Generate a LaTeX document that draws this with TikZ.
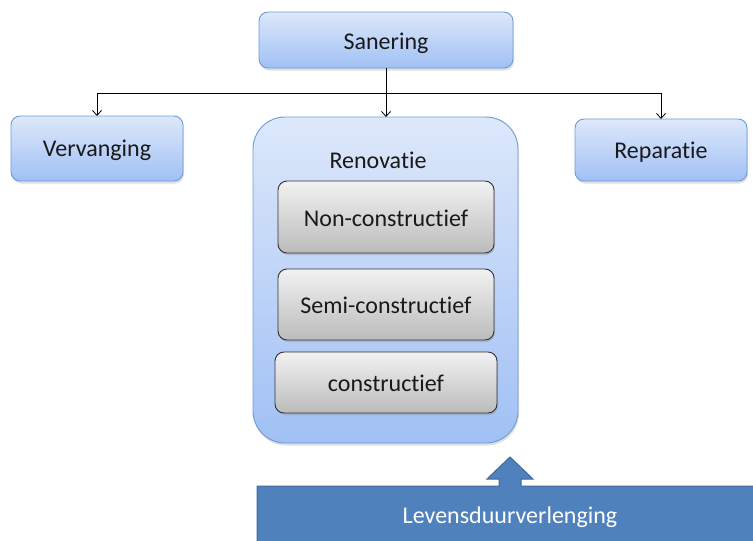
\documentclass[tikz,border=0pt]{standalone}
\usepackage{fontspec}
\setmainfont{Carlito}[Ligatures={NoCommon,NoRequired,NoContextual}]
\usetikzlibrary{shadows,arrows.meta}
\definecolor{bluetop}{HTML}{DDE8FA}
\definecolor{bluebot}{HTML}{A0C0F5}
\definecolor{blueline}{HTML}{6E9BD6}
\definecolor{graytop}{HTML}{F2F2F2}
\definecolor{graybot}{HTML}{BBBBBB}
\definecolor{grayline}{HTML}{333333}
\definecolor{barfill}{HTML}{4F81BD}
\definecolor{barline}{HTML}{3F6A9C}
\tikzset{
  lbl/.style={font=\fontsize{24}{28}\selectfont, text=black!90},
  bluebox/.style={rounded corners=9pt, draw=blueline, line width=0.9pt,
    top color=bluetop, bottom color=bluebot,
    drop shadow={opacity=0.25, shadow xshift=1pt, shadow yshift=-2.5pt}},
  graybox/.style={rounded corners=9pt, draw=grayline, line width=0.9pt,
    top color=graytop, bottom color=graybot,
    drop shadow={opacity=0.3, shadow xshift=1pt, shadow yshift=-2pt}},
  conn/.style={line width=0.8pt, draw=black},
  arr/.style={conn, -{Straight Barb[length=5pt,width=9pt]}},
}
\begin{document}
\begin{tikzpicture}[x=1pt,y=-1pt]
\useasboundingbox (0,0) rectangle (753,541);
\clip (0,0) rectangle (753,541);
% Top box
\path[bluebox] (259,12) rectangle (513,68);
\node[lbl] (san) at (386,43) {Sanering};
\coordinate (sanb) at (386,68);
% Side boxes
\path[bluebox] (11,116) rectangle (183,181);
\node[lbl] (ver) at (97,150) {Vervanging};
\coordinate (vert) at (97,116);
\path[bluebox] (575,119) rectangle (747,181);
\node[lbl] (rep) at (661,152) {Reparatie};
\coordinate (rept) at (661,119);
% Renovatie container
\path[bluebox, rounded corners=32pt] (253,117) rectangle (518,443);
\coordinate (rent) at (386,117);
\node[lbl] (ren) at (378,160) {Renovatie};
\path[graybox] (278,181) rectangle (494,253);
\node[lbl] (non) at (386,218) {Non-constructief};
\path[graybox] (278,269) rectangle (494,340);
\node[lbl] (semi) at (386,305) {Semi-constructief};
\path[graybox] (275,352) rectangle (497,413);
\node[lbl] (con) at (386,383) {constructief};
% Connectors
\coordinate (j) at (386,93);
\coordinate (jl) at (97,93);
\coordinate (jr) at (661,93);
\draw[conn] (sanb) -- (j);
\draw[conn] (jl) -- (jr);
\draw[arr] (jl) -- (vert);
\draw[arr] (j) -- (rent);
\draw[arr] (jr) -- (rept);
% Bottom bar with block arrow
\draw[fill=barfill, draw=barline, line width=1pt]
  (257,486) -- (499,486) -- (499,479) -- (487,479) -- (510,457) -- (533,479)
  -- (521,479) -- (521,486) -- (765,486) -- (765,555) -- (257,555) -- cycle;
\node[font=\fontsize{24}{28}\selectfont, text=white] (lev) at (510,517) {Levensduurverlenging};
\end{tikzpicture}
\end{document}
